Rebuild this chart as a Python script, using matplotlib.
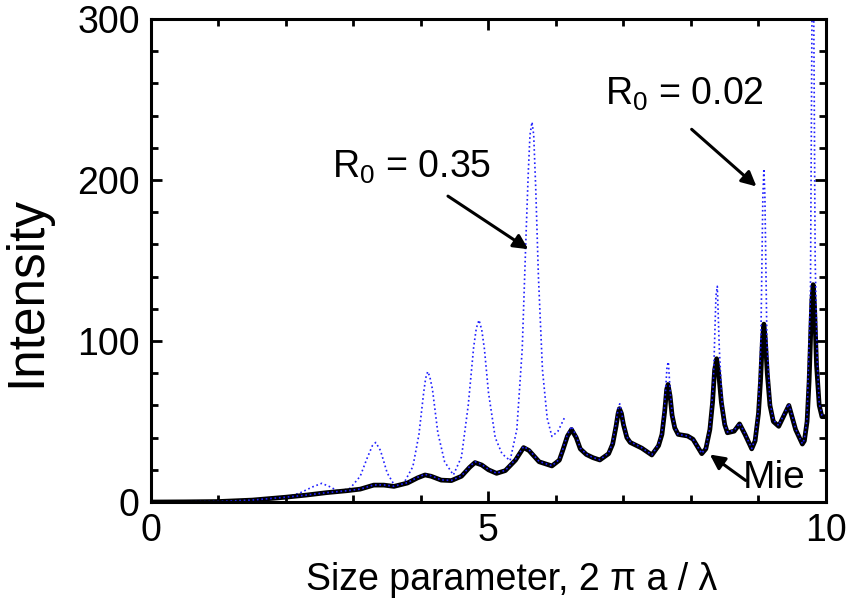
import matplotlib
matplotlib.use('Agg')
import matplotlib.pyplot as plt
from matplotlib.ticker import MultipleLocator

plt.rcParams['font.family'] = ['Liberation Sans', 'DejaVu Sans']
plt.rcParams['mathtext.fontset'] = 'custom'
plt.rcParams['mathtext.rm'] = 'Liberation Sans'

# Mie curve
mie_x = [0, 0.5, 1.0, 1.5, 2.0, 2.3, 2.6, 2.9, 3.1, 3.3, 3.45, 3.6, 3.8, 3.95, 4.06, 4.15,
         4.3, 4.45, 4.6, 4.72, 4.8, 4.9, 5.0, 5.12, 5.25, 5.4, 5.52, 5.6, 5.75, 5.94, 6.05,
         6.1, 6.17, 6.23, 6.3, 6.36, 6.45, 6.55, 6.65, 6.78, 6.84, 6.89, 6.92, 6.94, 6.97,
         7.0, 7.05, 7.1, 7.27, 7.42, 7.52, 7.57, 7.61, 7.64, 7.66, 7.69, 7.72, 7.76, 7.81,
         7.95, 8.03, 8.16, 8.22, 8.28, 8.32, 8.35, 8.38, 8.41, 8.45, 8.5, 8.54, 8.64, 8.72,
         8.8, 8.9, 8.95, 9.0, 9.03, 9.06, 9.08, 9.1, 9.13, 9.17, 9.22, 9.3, 9.45, 9.55, 9.65,
         9.68, 9.72, 9.75, 9.79, 9.81, 9.83, 9.86, 9.9, 9.94, 10.0]
mie_y = [0, 0.1, 0.3, 1.2, 3.0, 4.3, 5.8, 7.0, 8.0, 10.5, 10.5, 9.7, 11.8, 15, 16.8, 16,
         13.6, 13.3, 16, 21.5, 24.5, 23, 20, 17.8, 19.5, 26, 33.8, 32, 25, 22.4, 26,
         32, 41, 45, 40, 33, 29.5, 27.5, 26.1, 30, 36, 47, 55, 58, 55,
         48, 40, 37, 33.5, 29.2, 35, 42, 56, 70, 73, 66, 54, 46, 42,
         41, 39, 30, 33, 45, 62, 82, 89, 80, 62, 48, 43, 44, 48.5,
         42, 33, 38, 55, 75, 102, 110.5, 102, 80, 60, 50, 47, 60, 45, 36,
         38, 50, 75, 125, 135, 122, 85, 60, 53, 53]

# R0 = 0.02
r002_x = [0, 0.5, 1.0, 1.5, 2.0, 2.3, 2.6, 2.9, 3.1, 3.3, 3.45, 3.6, 3.8, 3.95, 4.06, 4.15,
          4.3, 4.45, 4.6, 4.72, 4.8, 4.9, 5.0, 5.12, 5.25, 5.4, 5.52, 5.6, 5.75, 5.94, 6.05,
          6.1, 6.17, 6.23, 6.3, 6.36, 6.45, 6.55, 6.65, 6.78, 6.84, 6.89, 6.92, 6.945, 6.97,
          7.0, 7.05, 7.1, 7.27, 7.42, 7.52, 7.57, 7.61, 7.645, 7.665, 7.69, 7.72, 7.76, 7.81,
          7.95, 8.03, 8.16, 8.22, 8.28, 8.33, 8.37, 8.39, 8.42, 8.46, 8.5, 8.54, 8.64, 8.72,
          8.8, 8.9, 8.95, 9.0, 9.035, 9.065, 9.08, 9.095, 9.125, 9.17, 9.22, 9.3, 9.45, 9.55,
          9.65, 9.68, 9.72, 9.77, 9.795, 9.80, 9.815, 9.84, 9.87, 9.9, 9.94, 10.0]
r002_y = [0, 0.1, 0.3, 1.2, 3.0, 4.3, 5.8, 7.0, 8.0, 10.6, 10.6, 9.8, 12, 15.3, 17.2, 16.3,
          13.7, 13.4, 16.2, 22, 25, 23.3, 20.2, 17.9, 19.7, 26.5, 34.5, 32.5, 25.2, 22.5, 26.5,
          32.5, 42, 47, 41, 33.5, 29.7, 27.6, 26.2, 30.5, 37, 49, 58, 61, 56,
          49, 40.5, 37.5, 33.7, 29.3, 36, 43, 60, 84, 87, 70, 55, 46.5, 42,
          41, 39, 30.2, 33.5, 46, 72, 128, 134, 95, 62, 48.5, 43.5, 44.5, 49,
          42.5, 33.2, 39, 58, 100, 190, 207, 190, 100, 62, 51, 47.5, 61, 45.5,
          36.2, 39, 52, 130, 320, 380, 330, 150, 88, 61, 54, 54]

# R0 = 0.35
r035_x = [0, 0.5, 1.0, 1.5, 2.0, 2.2, 2.4, 2.53, 2.65, 2.78, 2.95, 3.1, 3.2, 3.28, 3.33,
          3.4, 3.5, 3.62, 3.75, 3.88, 3.97, 4.04, 4.07, 4.1, 4.13, 4.17, 4.25, 4.35, 4.48,
          4.6, 4.7, 4.78, 4.82, 4.86, 4.9, 4.94, 5.0, 5.1, 5.2, 5.32, 5.42, 5.5, 5.56, 5.59,
          5.615, 5.645, 5.67, 5.7, 5.74, 5.8, 5.87, 5.94, 6.03, 6.13]
r035_y = [0, 0.1, 0.3, 1.2, 3.0, 5.5, 9.5, 11.6, 9.5, 6.6, 8.5, 16, 27, 35, 37,
          32, 18, 9.5, 12, 22, 42, 68, 77, 81, 78, 70, 43, 25, 16.8,
          28, 60, 96, 108, 113, 107, 95, 68, 40, 30, 25.7, 45, 95, 170, 205,
          228, 236, 228, 195, 140, 82, 52, 40.7, 44, 52.7]

fig = plt.figure(figsize=(8.51, 6.02), dpi=100)
ax = fig.add_axes([0.1774, 0.1661, 0.7932, 0.8023])

ax.plot(r035_x, r035_y, color='#1f1fff', lw=1.2, ls=':')
ax.plot(mie_x, mie_y, color='black', lw=3.4, solid_joinstyle='round')
ax.plot(r002_x, r002_y, color='#1f1fff', lw=1.2, ls=':')

ax.set_xlim(0, 10)
ax.set_ylim(0, 300)
ax.xaxis.set_major_locator(MultipleLocator(5))
ax.xaxis.set_minor_locator(MultipleLocator(1))
ax.yaxis.set_major_locator(MultipleLocator(100))
ax.yaxis.set_minor_locator(MultipleLocator(20))
ax.tick_params(which='both', direction='in', top=True, right=True, width=2)
ax.tick_params(which='major', length=8, labelsize=27, pad=8)
ax.tick_params(which='minor', length=5)
for s in ax.spines.values():
    s.set_linewidth(2.2)

ax.set_xlabel('Size parameter, 2 π a / λ', fontsize=27)
ax.xaxis.set_label_coords(0.535, -0.125)
ax.set_ylabel('Intensity', fontsize=37)
ax.yaxis.set_label_coords(-0.148, 0.435)

arr = dict(arrowstyle='-|>', color='black', lw=2.2, mutation_scale=22, shrinkA=0, shrinkB=0)
ax.annotate('', xy=(5.59, 157), xytext=(4.40, 190), arrowprops=arr)
ax.annotate('', xy=(8.97, 196), xytext=(8.01, 231.5), arrowprops=arr)
ax.annotate('', xy=(8.28, 29.5), xytext=(8.81, 13.4), arrowprops=arr)

ax.text(2.68, 208, r'R$\mathregular{_0}$ = 0.35', fontsize=27, va='center', ha='left')
ax.text(6.72, 253, r'R$\mathregular{_0}$ = 0.02', fontsize=27, va='center', ha='left')
ax.text(8.76, 15, 'Mie', fontsize=28, va='center', ha='left')

fig.savefig('out.png', dpi=100)
